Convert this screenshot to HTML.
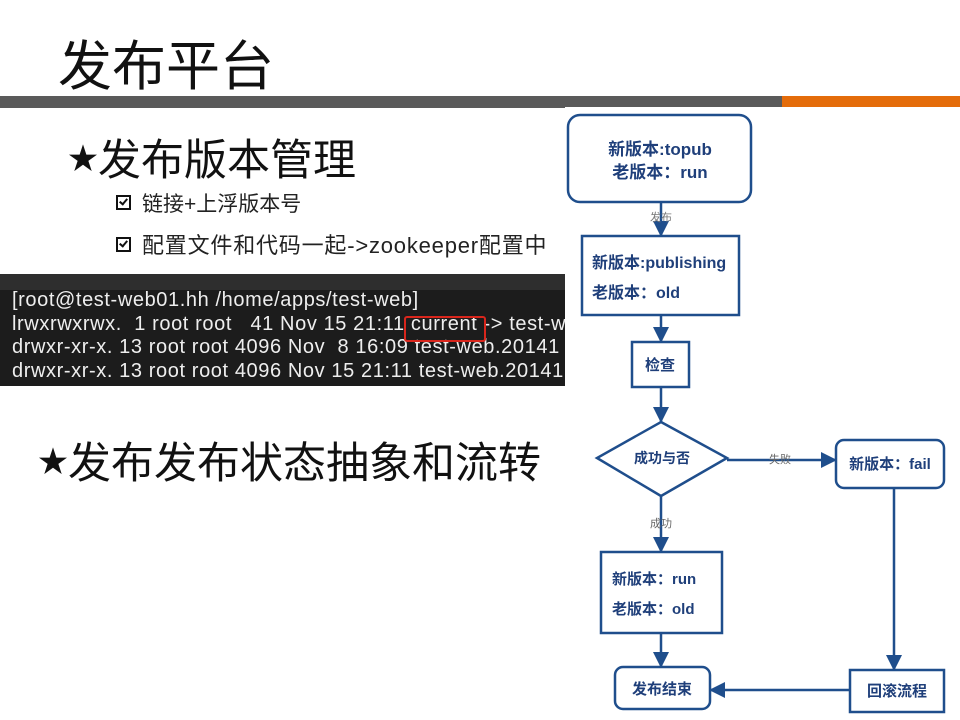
<!DOCTYPE html>
<html><head><meta charset="utf-8"><style>
body{margin:0;width:960px;height:720px;background:#fff;position:relative;overflow:hidden;font-family:"Liberation Sans","Noto Sans CJK SC",sans-serif}
.a{position:absolute;white-space:nowrap}
.cb{display:inline-block;width:11px;height:11px;border:2px solid #111;margin-right:11px;vertical-align:1px;position:relative}
.cb:after{content:"";position:absolute;left:3px;top:0px;width:3px;height:6px;border:solid #111;border-width:0 2px 2px 0;transform:rotate(40deg)}
</style></head><body>
<div class="a" style="left:58px;top:22px;font-size:54px;color:#111">发布平台</div>
<div class="a" style="left:0;top:96px;width:782px;height:12px;background:#5a5a5a"></div>
<div class="a" style="left:782px;top:96px;width:178px;height:11px;background:#e46c0a"></div>
<div class="a" style="left:68px;top:126px;font-size:43px;color:#111"><span style="font-size:30px;vertical-align:6px">★</span>发布版本管理</div>
<div class="a" style="left:116px;top:188px;font-size:21px;color:#222"><span class="cb"></span>链接+上浮版本号</div>
<div class="a" style="left:116px;top:228px;font-size:22px;color:#222;letter-spacing:0.8px"><span class="cb"></span>配置文件和代码一起->zookeeper配置中</div>
<div class="a" style="left:0;top:274px;width:566px;height:112px;background:#1c1c1c"></div>
<div class="a" style="left:0;top:274px;width:566px;height:16px;background:#2e2e2e"></div>
<div class="a" style="left:12px;top:289px;font-size:20px;line-height:23.5px;color:#eee;letter-spacing:0.6px;width:554px;overflow:hidden">[root@test-web01.hh /home/apps/test-web]<br>lrwxrwxrwx.&nbsp; 1 root root&nbsp;&nbsp; 41 Nov 15 21:11 current -> test-w<br>drwxr-xr-x. 13 root root 4096 Nov&nbsp; 8 16:09 test-web.20141<br>drwxr-xr-x. 13 root root 4096 Nov 15 21:11 test-web.20141</div>
<div class="a" style="left:404px;top:316px;width:78px;height:22px;border:2px solid #d9261c;border-radius:3px"></div>
<div class="a" style="left:38px;top:429px;font-size:43px;color:#111"><span style="font-size:30px;vertical-align:6px">★</span>发布发布状态抽象和流转</div>
<svg class="a" style="left:565px;top:107px" width="395" height="613" viewBox="565 107 395 613">
<defs><marker id="n" markerWidth="16" markerHeight="16" refX="15" refY="8" orient="auto" markerUnits="userSpaceOnUse"><path d="M0,0 L16,8 L0,16z" fill="#1f4e8c"/></marker></defs>
<rect x="565" y="107" width="395" height="613" fill="#fff"/>
<g fill="none" stroke="#1f4e8c" stroke-width="2.5">
<rect x="568" y="115" width="183" height="87" rx="12"/>
<rect x="582" y="236" width="157" height="79"/>
<rect x="632" y="342" width="57" height="45"/>
<path d="M661,422 L727,458 L661,496 L597,458Z"/>
<rect x="836" y="440" width="108" height="48" rx="8"/>
<rect x="601" y="552" width="121" height="81"/>
<rect x="615" y="667" width="95" height="42" rx="8"/>
<rect x="850" y="670" width="94" height="42"/>
<path d="M661,202 V236" marker-end="url(#n)"/>
<path d="M661,315 V342" marker-end="url(#n)"/>
<path d="M661,387 V422" marker-end="url(#n)"/>
<path d="M727,460 H836" marker-end="url(#n)"/>
<path d="M661,496 V552" marker-end="url(#n)"/>
<path d="M661,633 V667" marker-end="url(#n)"/>
<path d="M894,488 V670" marker-end="url(#n)"/>
<path d="M850,690 H710" marker-end="url(#n)"/>
</g>
<g font-family="Liberation Sans,Noto Sans CJK SC,sans-serif" fill="#1f3f7a" font-weight="bold">
<text x="660" y="155" font-size="17" text-anchor="middle">新版本:topub</text>
<text x="660" y="178" font-size="17" text-anchor="middle">老版本：run</text>
<text x="592" y="268" font-size="16">新版本:publishing</text>
<text x="592" y="298" font-size="16">老版本：old</text>
<text x="660" y="370" font-size="15" text-anchor="middle">检查</text>
<text x="662" y="463" font-size="14" text-anchor="middle">成功与否</text>
<text x="890" y="469" font-size="15" text-anchor="middle">新版本：fail</text>
<text x="612" y="584" font-size="15">新版本：run</text>
<text x="612" y="614" font-size="15">老版本：old</text>
<text x="662" y="694" font-size="15" text-anchor="middle">发布结束</text>
<text x="897" y="696" font-size="15" text-anchor="middle">回滚流程</text>
</g>
<g font-family="Liberation Sans,Noto Sans CJK SC,sans-serif" fill="#666" font-size="11">
<text x="661" y="221" text-anchor="middle" fill="#777">发布</text>
<text x="780" y="463" text-anchor="middle">失败</text>
<text x="661" y="527" text-anchor="middle">成功</text>
</g>
</svg>
</body></html>
